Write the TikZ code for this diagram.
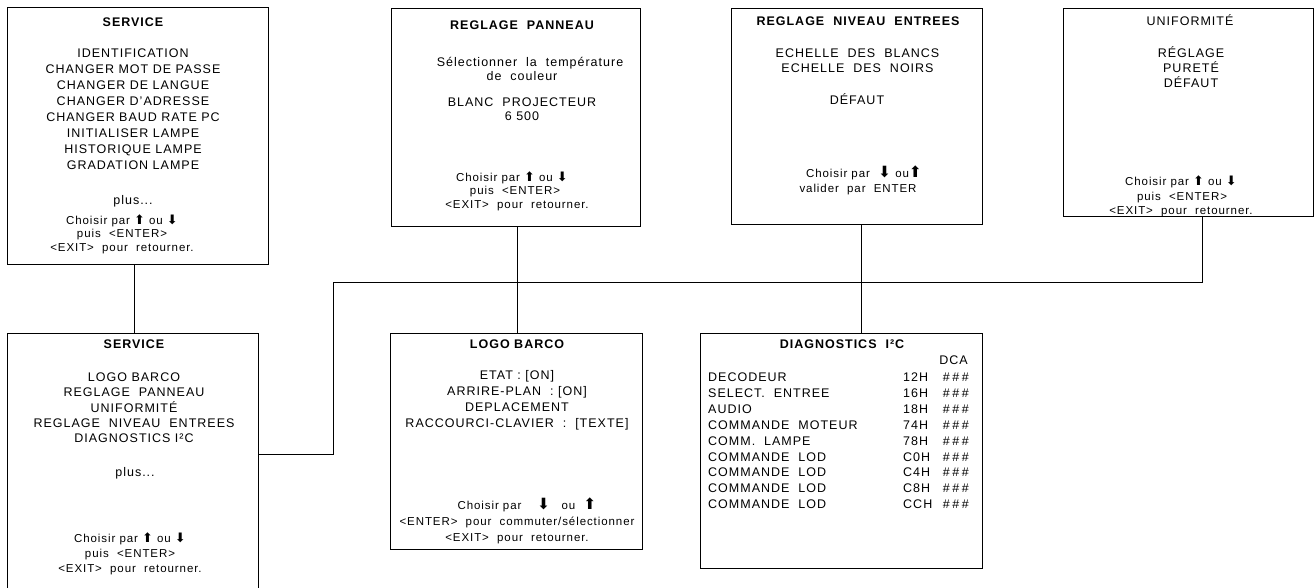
\documentclass[tikz,border=0pt]{standalone}
\usepackage{fontspec}
\setmainfont[LetterSpace=8]{Liberation Sans}
\newfontfamily\arrowfont{DejaVu Sans}
\newcommand\fsmain{\fontsize{12.5}{15}\selectfont}
\newcommand\fsins{\fontsize{11.5}{14}\selectfont}
\newcommand\ua{{\arrowfont\fontsize{13}{14}\selectfont ⬆}}
\newcommand\da{{\arrowfont\fontsize{13}{14}\selectfont ⬇}}
\newcommand\bua{{\arrowfont\fontsize{15.5}{16}\selectfont ⬆}}
\newcommand\bda{{\arrowfont\fontsize{15.5}{16}\selectfont ⬇}}
\tikzset{
  box/.style={draw, line width=1pt, inner sep=0pt},
  txt/.style={anchor=base, inner sep=0pt, font=\fsmain},
  ttl/.style={anchor=base, inner sep=0pt, font=\fsmain\bfseries},
  ins/.style={anchor=base, inner sep=0pt, font=\fsins},
  lft/.style={anchor=base west, inner sep=0pt, font=\fsmain},
  rgt/.style={anchor=base east, inner sep=0pt, font=\fsmain},
  link/.style={draw, line width=0.8pt}
}
\begin{document}
\begin{tikzpicture}[x=1pt,y=-1pt]
\useasboundingbox (0,0) rectangle (1315,588);
% boxes
\node[box, minimum width=261pt, minimum height=257pt] (svcA) at (137.5,136.5) {};
\node[box, minimum width=249pt, minimum height=218pt] (panel) at (515.5,118) {};
\node[box, minimum width=251pt, minimum height=216pt] (niveau) at (856.5,117) {};
\node[box, minimum width=250pt, minimum height=208pt] (unif) at (1188,113) {};
\node[box, minimum width=251pt, minimum height=261pt] (svcB) at (132.5,463.5) {};
\node[box, minimum width=252pt, minimum height=216pt] (logo) at (516,441) {};
\node[box, minimum width=282pt, minimum height=235pt] (diag) at (841,450.5) {};

% SERVICE (top)
\node[ttl] (aT) at (133,26.5) {SERVICE};
\foreach \t [count=\i from 0] in {IDENTIFICATION,CHANGER MOT DE PASSE,CHANGER DE LANGUE,CHANGER D'ADRESSE,CHANGER BAUD RATE PC,INITIALISER LAMPE,HISTORIQUE LAMPE,GRADATION LAMPE}
  \node[txt] (aL\i) at (133,{57.5+16*\i}) {\t};
\node[txt] (aP) at (133,204.5) {plus...};
\node[ins] (aI1) at (122,224.5) {Choisir par \ua\ ou \da};
\node[ins] (aI2) at (122,238) {puis \ <ENTER>};
\node[ins] (aI3) at (122,252) {<EXIT> \ pour \ retourner.};

% REGLAGE PANNEAU
\node[ttl] (pT) at (522,29.5) {REGLAGE \ PANNEAU};
\node[txt] (pL1) at (530,66.5) {Sélectionner \ la \ température};
\node[txt] (pL2) at (522,80.5) {de \ couleur};
\node[txt] (pL3) at (522,106.5) {BLANC \ PROJECTEUR};
\node[txt] (pL4) at (522,120.5) {6 500};
\node[ins] (pI1) at (512,181.5) {Choisir par \ua\ ou \da};
\node[ins] (pI2) at (515,195) {puis \ <ENTER>};
\node[ins] (pI3) at (517,209) {<EXIT> \ pour \ retourner.};

% REGLAGE NIVEAU ENTREES
\node[ttl] (nT) at (858,25.5) {REGLAGE \ NIVEAU \ ENTREES};
\node[txt] (nL1) at (857.5,57.5) {ECHELLE \ DES \ BLANCS};
\node[txt] (nL2) at (857.5,72.5) {ECHELLE \ DES \ NOIRS};
\node[txt] (nL3) at (857,104.5) {DÉFAUT};
\node[ins] (nI1) at (864,177.5) {Choisir par \ \bda\ ou\bua};
\node[ins] (nI2) at (858,193) {valider \ par \ ENTER};

% UNIFORMITE
\node[txt] (uT) at (1190,25.5) {UNIFORMITÉ};
\node[txt] (uL1) at (1191,57.5) {RÉGLAGE};
\node[txt] (uL2) at (1191,72.5) {PURETÉ};
\node[txt] (uL3) at (1191,87.5) {DÉFAUT};
\node[ins] (uI1) at (1181,186) {Choisir par \ua\ ou \da};
\node[ins] (uI2) at (1182,200.5) {puis \ <ENTER>};
\node[ins] (uI3) at (1181,214.5) {<EXIT> \ pour \ retourner.};

% SERVICE (bottom)
\node[ttl] (bT) at (134,348.5) {SERVICE};
\foreach \t [count=\i from 0] in {LOGO BARCO,REGLAGE \ PANNEAU,UNIFORMITÉ,REGLAGE \ NIVEAU \ ENTREES,DIAGNOSTICS I²C}
  \node[txt] (bL\i) at (134,{381.5+15.3*\i}) {\t};
\node[txt] (bP) at (135,476.5) {plus...};
\node[ins] (bI1) at (130,542.5) {Choisir par \ua\ ou \da};
\node[ins] (bI2) at (130,557) {puis \ <ENTER>};
\node[ins] (bI3) at (130,572) {<EXIT> \ pour \ retourner.};

% LOGO BARCO
\node[ttl] (lT) at (517,348.5) {LOGO BARCO};
\node[txt] (lL1) at (517,379.5) {ETAT : [ON]};
\node[txt] (lL2) at (517,395.5) {ARRIRE-PLAN \ : [ON]};
\node[txt] (lL3) at (517,411.5) {DEPLACEMENT};
\node[txt] (lL4) at (517,427.5) {RACCOURCI-CLAVIER \ : \ [TEXTE]};
\node[ins] (lI1) at (527,509.5) {Choisir par \quad\bda\quad ou \ \bua};
\node[ins] (lI2) at (517,525) {<ENTER> \ pour \ commuter/sélectionner};
\node[ins] (lI3) at (517,541) {<EXIT> \ pour \ retourner.};

% DIAGNOSTICS
\node[ttl] (dT) at (842,348.5) {DIAGNOSTICS \ I²C};
\node[rgt] (dH) at (968,364.5) {DCA};
\foreach \n/\c [count=\i from 0] in {DECODEUR/12H,SELECT. \ ENTREE/16H,AUDIO/18H,COMMANDE \ MOTEUR/74H,COMM. \ LAMPE/78H,COMMANDE \ LOD/C0H,COMMANDE \ LOD/C4H,COMMANDE \ LOD/C8H,COMMANDE \ LOD/CCH}{
  \node[lft] (dN\i) at (708,{381.5+15.9*\i}) {\n};
  \node[lft] (dC\i) at (903,{381.5+15.9*\i}) {\c};
  \node[rgt] (dV\i) at (969,{381.5+15.9*\i}) {\#\kern2.5pt\#\kern2.5pt\#};
}

% connectors
\draw[link] ([xshift=-3.5pt]svcA.south) -- ([xshift=-3.5pt]svcA.south |- svcB.north);
\draw[link] ([xshift=1.5pt]panel.south) -- ([xshift=1.5pt]panel.south |- logo.north);
\draw[link] ([xshift=4.5pt]niveau.south) -- ([xshift=4.5pt]niveau.south |- diag.north);
\coordinate (j1) at (333,282);
\draw[link] ([yshift=9.5pt]svcB.east) -| (j1) -| ([xshift=14pt]unif.south);
\end{tikzpicture}
\end{document}
